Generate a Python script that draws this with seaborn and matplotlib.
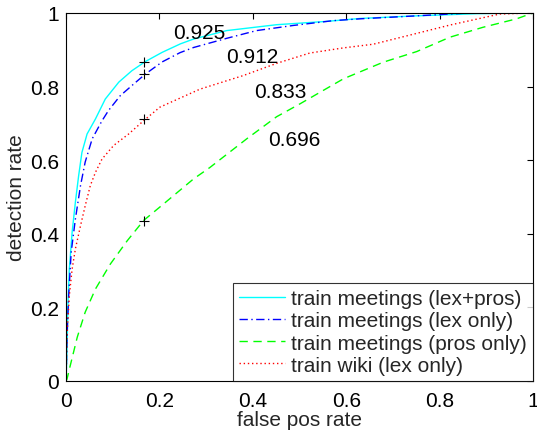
import matplotlib
matplotlib.use("Agg")
import matplotlib.pyplot as plt
import seaborn as sns
import pandas as pd

sns.set_theme(style="white")
plt.rcParams['font.family'] = ['Liberation Sans', 'DejaVu Sans']

# ROC curves (false pos rate, detection rate)
lexpros_x = [0.0, 0.002, 0.004, 0.007, 0.013, 0.020, 0.027, 0.034, 0.045, 0.063, 0.084, 0.113, 0.141, 0.170, 0.206, 0.245, 0.273, 0.344, 0.451, 0.558, 0.630, 0.75, 0.88, 1.0]
lexpros_y = [0.0, 0.078, 0.204, 0.304, 0.404, 0.486, 0.558, 0.621, 0.671, 0.712, 0.766, 0.812, 0.843, 0.868, 0.893, 0.916, 0.929, 0.952, 0.968, 0.977, 0.985, 0.992, 0.998, 1.0]

lex_x = [0.0, 0.002, 0.006, 0.011, 0.020, 0.031, 0.041, 0.056, 0.077, 0.091, 0.116, 0.145, 0.170, 0.206, 0.244, 0.273, 0.344, 0.408, 0.487, 0.572, 0.630, 0.75, 0.85, 1.0]
lex_y = [0.0, 0.122, 0.241, 0.350, 0.440, 0.531, 0.595, 0.658, 0.707, 0.735, 0.775, 0.807, 0.834, 0.867, 0.892, 0.906, 0.931, 0.952, 0.966, 0.979, 0.984, 0.992, 0.999, 1.0]

pros_x = [0.0, 0.002, 0.009, 0.024, 0.041, 0.063, 0.095, 0.131, 0.166, 0.206, 0.273, 0.308, 0.387, 0.451, 0.501, 0.594, 0.679, 0.751, 0.822, 0.893, 0.965, 1.0]
pros_y = [0.0, 0.005, 0.042, 0.119, 0.187, 0.250, 0.318, 0.381, 0.436, 0.478, 0.549, 0.580, 0.658, 0.718, 0.753, 0.821, 0.866, 0.895, 0.934, 0.961, 0.984, 1.0]

wiki_x = [0.0, 0.002, 0.007, 0.013, 0.020, 0.031, 0.041, 0.052, 0.063, 0.077, 0.102, 0.134, 0.166, 0.201, 0.287, 0.380, 0.451, 0.522, 0.594, 0.658, 0.737, 0.822, 0.929, 1.0]
wiki_y = [0.0, 0.122, 0.232, 0.304, 0.359, 0.422, 0.476, 0.531, 0.567, 0.603, 0.640, 0.671, 0.707, 0.744, 0.793, 0.830, 0.863, 0.891, 0.905, 0.915, 0.940, 0.967, 0.997, 1.0]

# operating points
op_x = [0.167, 0.167, 0.167, 0.167]
op_y = [0.866, 0.834, 0.435, 0.711]

# AUC labels
auc_text = ["0.925", "0.912", "0.833", "0.696"]
auc_x = [0.285, 0.398, 0.459, 0.489]
auc_y = [0.947, 0.882, 0.787, 0.655]

labels = ["train meetings (lex+pros)", "train meetings (lex only)",
          "train meetings (pros only)", "train wiki (lex only)"]
colors = ["#00ffff", "#0000ff", "#00ff00", "#ff0000"]
dashes = [None, (6, 2.5, 1, 2.5), (6, 4), (1, 2)]
xs = [lexpros_x, lex_x, pros_x, wiki_x]
ys = [lexpros_y, lex_y, pros_y, wiki_y]

fig = plt.figure(figsize=(5.37, 4.31), dpi=100)
ax = fig.add_axes([0.123, 0.1137, 0.8695, 0.854])

for lab, c, d, x, y in zip(labels, colors, dashes, xs, ys):
    df = pd.DataFrame({"x": x, "y": y})
    sns.lineplot(data=df, x="x", y="y", ax=ax, color=c,
                 linewidth=1.0, estimator=None, sort=False, label=lab)
    if d is not None:
        ax.lines[-1].set_dashes(d)

ax.plot(op_x, op_y, linestyle="none", marker="+", color="black",
        markersize=7, markeredgewidth=0.8)

for t, x, y in zip(auc_text, auc_x, auc_y):
    ax.text(x, y, t, ha="center", va="center", fontsize=15, color="black")

ax.set_xlim(0, 1)
ax.set_ylim(0, 1)
ticks = [0, 0.2, 0.4, 0.6, 0.8, 1]
tlabels = ["0", "0.2", "0.4", "0.6", "0.8", "1"]
ax.set_xticks(ticks)
ax.set_xticklabels(tlabels)
ax.set_yticks(ticks)
ax.set_yticklabels(tlabels)
ax.tick_params(direction="in", length=4, width=0.8, top=True, right=True,
               labelsize=15, colors="black")
ax.tick_params(axis="x", pad=7)
ax.tick_params(axis="y", pad=5)
ax.set_xlabel("false pos rate", fontsize=15, labelpad=0)
ax.set_ylabel("detection rate", fontsize=15, labelpad=3)
for s in ax.spines.values():
    s.set_color("black")
    s.set_linewidth(0.8)

leg = ax.legend(loc="lower right", fontsize=15, frameon=True, fancybox=False,
                handlelength=2.2, handletextpad=0.3, borderpad=0.3,
                labelspacing=0.15, borderaxespad=0.0)
leg.get_frame().set_edgecolor("black")
leg.get_frame().set_linewidth(0.8)
for h, d in zip(leg.get_lines(), dashes):
    if d is not None:
        h.set_dashes(d)

fig.savefig("out.png", dpi=100)
